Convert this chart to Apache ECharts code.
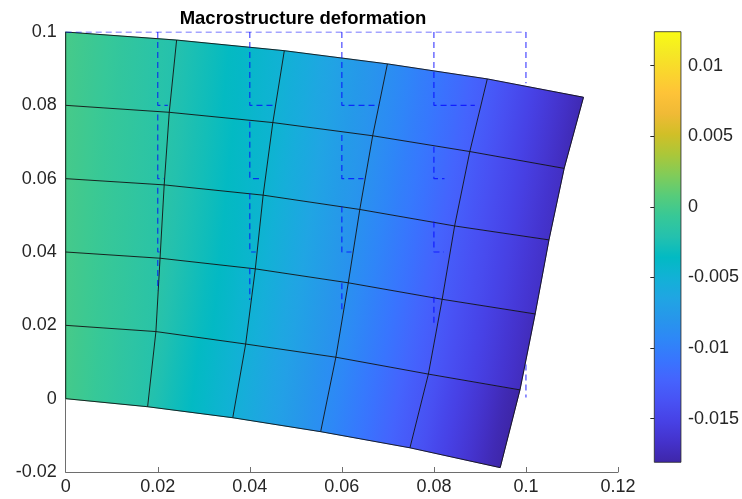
<!DOCTYPE html>
<html>
<head>
<meta charset="utf-8">
<script src="https://cdn.jsdelivr.net/npm/echarts@6/dist/echarts.min.js"></script>
<style>
  html, body { margin: 0; padding: 0; background: #ffffff; }
  #chart { width: 742px; height: 499px; }
</style>
</head>
<body>
<div id="chart"></div>
<script>
// Undeformed node positions of the 5 x 5 element mesh (m)
const GRID_X = [0, 0.02, 0.04, 0.06, 0.08, 0.1];
const GRID_Y = [0, 0.02, 0.04, 0.06, 0.08, 0.1];

// Nodal displacements, one row per GRID_Y level (bottom to top), one column per GRID_X
const UX = [
  [0, -0.0022, -0.0037, -0.0046, -0.0052, -0.0056],
  [0, -0.0004, -0.0009, -0.0013, -0.0012, -0.0013],
  [0,  0.0005,  0.0012,  0.0014,  0.0018,  0.0020],
  [0,  0.0014,  0.0029,  0.0039,  0.0045,  0.0050],
  [0,  0.0025,  0.0050,  0.0067,  0.0078,  0.0083],
  [0,  0.0041,  0.0075,  0.0099,  0.0116,  0.0125]
];
const UY = [
  [0, -0.0022, -0.0052, -0.0090, -0.0134, -0.0188],
  [0, -0.0017, -0.0051, -0.0087, -0.0133, -0.0176],
  [0, -0.0017, -0.0046, -0.0084, -0.0129, -0.0169],
  [0, -0.0017, -0.0045, -0.0084, -0.0129, -0.0167],
  [0, -0.0019, -0.0047, -0.0083, -0.0126, -0.0172],
  [0, -0.0022, -0.0051, -0.0087, -0.0128, -0.0178]
];

// Visible pieces of the undeformed outline (dashed)
const DASHED_PATHS = [
  [[0, 0.1], [0.1, 0.1]],
  [[0.02, 0.1], [0.02, 0.08], [0.0222, 0.08]],
  [[0.02, 0.0775], [0.02, 0.06], [0.0214, 0.06]],
  [[0.02, 0.0575], [0.02, 0.04], [0.0205, 0.04]],
  [[0.02, 0.0378], [0.02, 0.0296]],
  [[0.04, 0.1], [0.04, 0.08], [0.045, 0.08]],
  [[0.04, 0.0755], [0.04, 0.06], [0.042, 0.06]],
  [[0.04, 0.056], [0.04, 0.04], [0.0413, 0.04]],
  [[0.04, 0.0356], [0.04, 0.0269]],
  [[0.06, 0.1], [0.06, 0.08], [0.0681, 0.08]],
  [[0.06, 0.0719], [0.06, 0.06], [0.0647, 0.06]],
  [[0.06, 0.0524], [0.06, 0.04], [0.0621, 0.04]],
  [[0.06, 0.0315], [0.06, 0.0233]],
  [[0.08, 0.1], [0.08, 0.08], [0.0889, 0.08]],
  [[0.08, 0.0687], [0.08, 0.06], [0.0823, 0.06]],
  [[0.08, 0.0483], [0.08, 0.04], [0.0822, 0.04]],
  [[0.08, 0.0278], [0.08, 0.0201]],
  [[0.1, 0.1], [0.1, 0.086]],
  [[0.1, 0.0093], [0.1, 0.0003]]
];

// Axis and colorbar settings
const X_RANGE = [0, 0.12];
const Y_RANGE = [-0.02, 0.1];
const TICK_STEP = 0.02;
const CBAR_RANGE = [-0.0181, 0.0124];
const CBAR_TICKS = [-0.015, -0.01, -0.005, 0, 0.005, 0.01];
const TITLE = 'Macrostructure deformation';

// parula colormap, low to high
const PARULA = ['#3e26a8', '#4432cb', '#4741e5', '#4852f4', '#4563fd', '#3875fe', '#2e87f7',
  '#2796eb', '#20a5e3', '#12b1d6', '#02bac3', '#24c1ae', '#37c897', '#57cc7a', '#81cc59',
  '#abc739', '#d1bf27', '#f0ba36', '#fec338', '#fad62d', '#f5e924', '#f9fb15'];

const FONT = 'Liberation Sans, Arial, Helvetica, sans-serif';
const SHADE_STOPS = 8;   // colour stops across each element

function colorOf(v) {
  let t = (v - CBAR_RANGE[0]) / (CBAR_RANGE[1] - CBAR_RANGE[0]);
  t = Math.max(0, Math.min(1, t));
  return echarts.color.lerp(t, PARULA);
}
function node(i, j) {
  return [GRID_X[i] + UX[j][i], GRID_Y[j] + UY[j][i]];
}
function fmt(v) { return String(parseFloat((+v).toFixed(4))); }

// element list (i = column, j = row)
const elements = [];
for (let j = 0; j < GRID_Y.length - 1; j++) {
  for (let i = 0; i < GRID_X.length - 1; i++) elements.push([i, j]);
}

// one quad per element, shaded along its local x direction
function renderElement(params, api) {
  const i = api.value(0), j = api.value(1);
  const n = [node(i, j), node(i + 1, j), node(i + 1, j + 1), node(i, j + 1)];
  const c = [UY[j][i], UY[j][i + 1], UY[j + 1][i + 1], UY[j + 1][i]];
  const bil = (a, s, t) => (1 - s) * (1 - t) * a[0] + s * (1 - t) * a[1] + s * t * a[2] + (1 - s) * t * a[3];
  const xs = n.map(p => p[0]), ys = n.map(p => p[1]);
  const P = (s, t) => api.coord([bil(xs, s, t), bil(ys, s, t)]);
  const L = P(0, 0.5), R = P(1, 0.5);
  const stops = [];
  for (let k = 0; k <= SHADE_STOPS; k++) {
    const s = k / SHADE_STOPS;
    stops.push({ offset: s, color: colorOf(bil(c, s, 0.5)) });
  }
  const grad = new echarts.graphic.LinearGradient(L[0], L[1], R[0], R[1], stops, true);
  return {
    type: 'polygon',
    shape: { points: [P(0, 0), P(1, 0), P(1, 1), P(0, 1)] },
    style: { fill: grad, stroke: grad, lineWidth: 0.8 }
  };
}

function renderColorbar(params, api) {
  const p0 = api.coord([0, api.value(1)]);
  const p1 = api.coord([1, api.value(0)]);
  const stops = PARULA.map((col, k) => ({ offset: k / (PARULA.length - 1), color: PARULA[PARULA.length - 1 - k] }));
  return {
    type: 'rect',
    shape: { x: p0[0], y: p0[1], width: p1[0] - p0[0], height: p1[1] - p0[1] },
    style: { fill: new echarts.graphic.LinearGradient(0, 0, 0, 1, stops), stroke: '#262626', lineWidth: 0.8 }
  };
}

const series = [];
series.push({
  type: 'custom', xAxisIndex: 0, yAxisIndex: 0, silent: true, z: 2,
  renderItem: renderElement, data: elements
});
// mesh lines: rows then columns
for (let j = 0; j < GRID_Y.length; j++) {
  series.push({
    type: 'line', xAxisIndex: 0, yAxisIndex: 0, symbol: 'none', silent: true, z: 3,
    lineStyle: { color: '#121212', width: 0.9 },
    data: GRID_X.map((_, i) => node(i, j))
  });
}
for (let i = 0; i < GRID_X.length; i++) {
  series.push({
    type: 'line', xAxisIndex: 0, yAxisIndex: 0, symbol: 'none', silent: true, z: 3,
    lineStyle: { color: '#121212', width: 0.9 },
    data: GRID_Y.map((_, j) => node(i, j))
  });
}
DASHED_PATHS.forEach(path => {
  series.push({
    type: 'line', xAxisIndex: 0, yAxisIndex: 0, symbol: 'none', silent: true, z: 4,
    lineStyle: { color: '#0000ff', width: 1.2, type: [6, 4], opacity: 0.72 },
    data: path
  });
});
series.push({
  type: 'custom', xAxisIndex: 1, yAxisIndex: 1, silent: true, z: 2,
  renderItem: renderColorbar, data: [CBAR_RANGE]
});

const axisLineStyle = { color: '#6e6e6e', width: 1 };
const labelStyle = { color: '#262626', fontSize: 18, fontFamily: FONT };

const option = {
  animation: false,
  backgroundColor: '#ffffff',
  grid: [
    { left: 65.7, right: 124, top: 32, bottom: 27 },
    { left: 654.3, width: 30, top: 31.7, bottom: 36.7 }
  ],
  xAxis: [
    {
      gridIndex: 0, type: 'value', min: X_RANGE[0], max: X_RANGE[1], interval: TICK_STEP,
      axisLine: { onZero: false, lineStyle: axisLineStyle },
      axisTick: { inside: true, length: 5, lineStyle: axisLineStyle },
      axisLabel: Object.assign({ margin: 6, formatter: fmt }, labelStyle),
      splitLine: { show: false }
    },
    { gridIndex: 1, type: 'value', min: 0, max: 1, show: false }
  ],
  yAxis: [
    {
      gridIndex: 0, type: 'value', min: Y_RANGE[0], max: Y_RANGE[1], interval: TICK_STEP,
      axisLine: { onZero: false, lineStyle: axisLineStyle },
      axisTick: { inside: true, length: 5, lineStyle: axisLineStyle },
      axisLabel: Object.assign({ margin: 9, formatter: fmt }, labelStyle),
      splitLine: { show: false }
    },
    {
      gridIndex: 1, type: 'value', position: 'right', min: CBAR_RANGE[0], max: CBAR_RANGE[1],
      axisLine: { show: false },
      axisTick: { show: true, inside: true, length: 4, customValues: CBAR_TICKS, lineStyle: { color: '#262626', width: 1 } },
      axisLabel: Object.assign({ margin: 7, customValues: CBAR_TICKS, formatter: fmt }, labelStyle),
      splitLine: { show: false }
    }
  ],
  graphic: [{
    type: 'text', x: 303, y: 19, z: 10,
    style: { text: TITLE, fill: '#000000', font: 'bold 18.5px ' + FONT, textAlign: 'center', textVerticalAlign: 'middle' }
  }],
  series
};

const chart = echarts.init(document.getElementById('chart'));
chart.setOption(option);
</script>
</body>
</html>
